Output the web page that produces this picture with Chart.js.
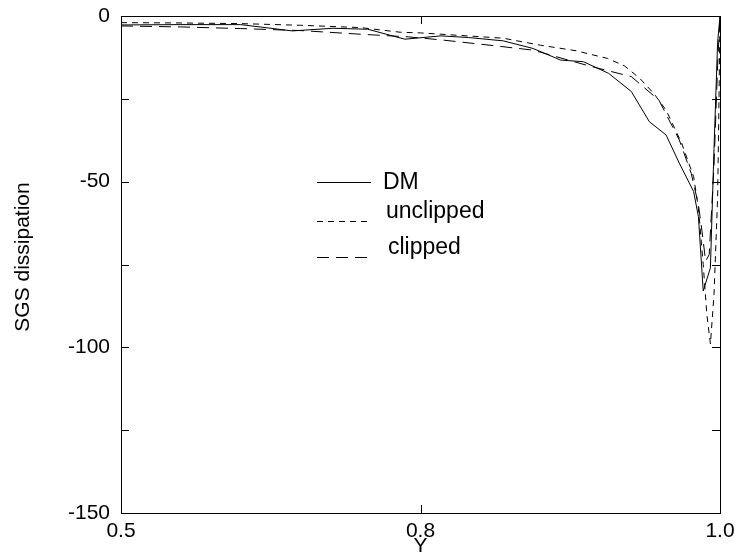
<!DOCTYPE html>
<html>
<head>
<meta charset="utf-8">
<script src="https://cdn.jsdelivr.net/npm/chart.js@4.4.0/dist/chart.umd.min.js"></script>
<style>
    html, body { margin: 0; padding: 0; background: #fff; }
    #wrap { width: 737px; height: 558px; }
</style>
</head>
<body>
<div id="wrap"><canvas id="sgsChart"></canvas></div>
<script>
// values
const dmX = [0.5, 0.55, 0.6, 0.643, 0.677, 0.706, 0.737, 0.767, 0.79, 0.819, 0.844, 0.867, 0.886, 0.907, 0.926, 0.941, 0.955, 0.966, 0.978, 0.982, 0.986, 0.992, 0.995, 0.998, 1.0];
const dmV = [-2.7, -2.6, -2.6, -4.5, -3.7, -4.0, -7.0, -6.0, -6.5, -7.5, -9.8, -13.3, -13.8, -17.3, -22.8, -31.9, -35.9, -44.4, -53, -60.6, -83, -76, -40, -8, 0];

const unclippedX = [0.5, 0.55, 0.6, 0.65, 0.7, 0.733, 0.75, 0.819, 0.85, 0.88, 0.906, 0.92, 0.933, 0.945, 0.955, 0.968, 0.978, 0.982, 0.986, 0.989, 0.992, 0.995, 0.998, 0.999, 1.0];
const unclippedV = [-2.0, -2.1, -2.3, -2.8, -3.5, -4.9, -5.1, -6.7, -8.8, -10.5, -12.8, -15, -18.8, -23.5, -28.4, -38.4, -48.5, -58, -75, -90, -99, -84, -55, -30, 0];

const clippedX = [0.5, 0.55, 0.6, 0.65, 0.7, 0.74, 0.767, 0.8, 0.844, 0.89, 0.926, 0.949, 0.966, 0.976, 0.982, 0.985, 0.988, 0.991, 0.995, 0.998, 1.0];
const clippedV = [-3.0, -3.3, -3.8, -4.4, -5.5, -6.3, -7.2, -8.5, -10.3, -15, -18.3, -25.4, -37.4, -47.5, -57, -65, -74, -72, -45, -15, 0];

const xTicks = [0.5, 0.75, 1.0];
const yLabelled = [0, -50, -100, -150];

const legendItems = [
    { text: 'DM', dash: [] },
    { text: 'unclipped', dash: [6, 5] },
    { text: 'clipped', dash: [12, 7] }
];

function toPoints(xs, vs) {
    return xs.map((x, i) => ({ x: x, y: vs[i] }));
}

const FONT = "'Liberation Sans', Arial, sans-serif";

// box, inward tick marks, y title and the legend
const framePlugin = {
    id: 'frame',
    afterDraw(chart) {
        const ctx = chart.ctx;
        const a = chart.chartArea;
        const xs = chart.scales.x;
        const ys = chart.scales.y;
        ctx.save();
        ctx.strokeStyle = '#000';
        ctx.lineWidth = 1;
        ctx.setLineDash([]);
        ctx.strokeRect(Math.round(a.left) + 0.5, Math.round(a.top) + 0.5,
            Math.round(a.right - a.left), Math.round(a.bottom - a.top));
        const len = 8;
        ctx.beginPath();
        xs.ticks.forEach(t => {
            const px = Math.round(xs.getPixelForValue(t.value)) + 0.5;
            ctx.moveTo(px, a.bottom); ctx.lineTo(px, a.bottom - len);
            ctx.moveTo(px, a.top); ctx.lineTo(px, a.top + len);
        });
        ys.ticks.forEach(t => {
            const py = Math.round(ys.getPixelForValue(t.value)) + 0.5;
            ctx.moveTo(a.left, py); ctx.lineTo(a.left + len, py);
            ctx.moveTo(a.right, py); ctx.lineTo(a.right - len, py);
        });
        ctx.stroke();

        ctx.fillStyle = '#000';
        ctx.textBaseline = 'middle';
        ctx.textAlign = 'center';
        ctx.font = '21px ' + FONT;
        ctx.save();
        ctx.translate(23, 257);
        ctx.rotate(-Math.PI / 2);
        ctx.fillText('SGS dissipation', 0, 0);
        ctx.restore();

        // legend
        const rows = [
            { lineY: 182, textX: 383, textY: 183 },
            { lineY: 221, textX: 386, textY: 212 },
            { lineY: 257, textX: 388, textY: 248 }
        ];
        ctx.font = '23px ' + FONT;
        ctx.textAlign = 'left';
        legendItems.forEach((item, i) => {
            const r = rows[i];
            ctx.beginPath();
            ctx.setLineDash(item.dash);
            ctx.moveTo(317, r.lineY + 0.5);
            ctx.lineTo(371, r.lineY + 0.5);
            ctx.stroke();
            ctx.fillText(item.text, r.textX, r.textY);
        });
        ctx.restore();
    }
};

function lineSet(label, xs, vs, dash) {
    return {
        label: label,
        data: toPoints(xs, vs),
        showLine: true,
        borderColor: '#000',
        borderWidth: 1,
        borderDash: dash,
        pointRadius: 0,
        fill: false,
        tension: 0
    };
}

document.addEventListener('DOMContentLoaded', function() {
    const ctx = document.getElementById('sgsChart').getContext('2d');
    new Chart(ctx, {
        type: 'scatter',
        data: {
            datasets: [
                lineSet('DM', dmX, dmV, []),
                lineSet('unclipped', unclippedX, unclippedV, [6, 5]),
                lineSet('clipped', clippedX, clippedV, [12, 7])
            ]
        },
        options: {
            responsive: true,
            maintainAspectRatio: false,
            animation: false,
            layout: { padding: { top: 16, right: 17, bottom: 0, left: 0 } },
            plugins: {
                legend: { display: false },
                tooltip: { enabled: false }
            },
            scales: {
                x: {
                    type: 'linear',
                    min: 0.5,
                    max: 1.0,
                    afterBuildTicks: scale => {
                        scale.ticks = xTicks.map(v => ({ value: v }));
                    },
                    afterFit: scale => {
                        scale.height = 45;
                        scale.paddingLeft = 0;
                        scale.paddingRight = 0;
                    },
                    grid: { display: false, drawTicks: false },
                    border: { display: false },
                    ticks: {
                        color: '#000',
                        font: { family: FONT, size: 21 },
                        padding: 6,
                        maxRotation: 0,
                        callback: v => Number(v).toFixed(1)
                    },
                    title: {
                        display: true,
                        text: 'Y',
                        color: '#000',
                        font: { family: FONT, size: 21 },
                        padding: { top: 0, bottom: -1 }
                    }
                },
                y: {
                    type: 'linear',
                    min: -150,
                    max: 0,
                    afterFit: scale => {
                        scale.width = 121;
                        scale.paddingTop = 0;
                        scale.paddingBottom = 0;
                    },
                    grid: { display: false, drawTicks: false },
                    border: { display: false },
                    ticks: {
                        stepSize: 25,
                        color: '#000',
                        font: { family: FONT, size: 21 },
                        padding: 11,
                        callback: v => yLabelled.includes(v) ? String(v) : ''
                    }
                }
            }
        },
        plugins: [framePlugin]
    });
});
</script>
</body>
</html>
